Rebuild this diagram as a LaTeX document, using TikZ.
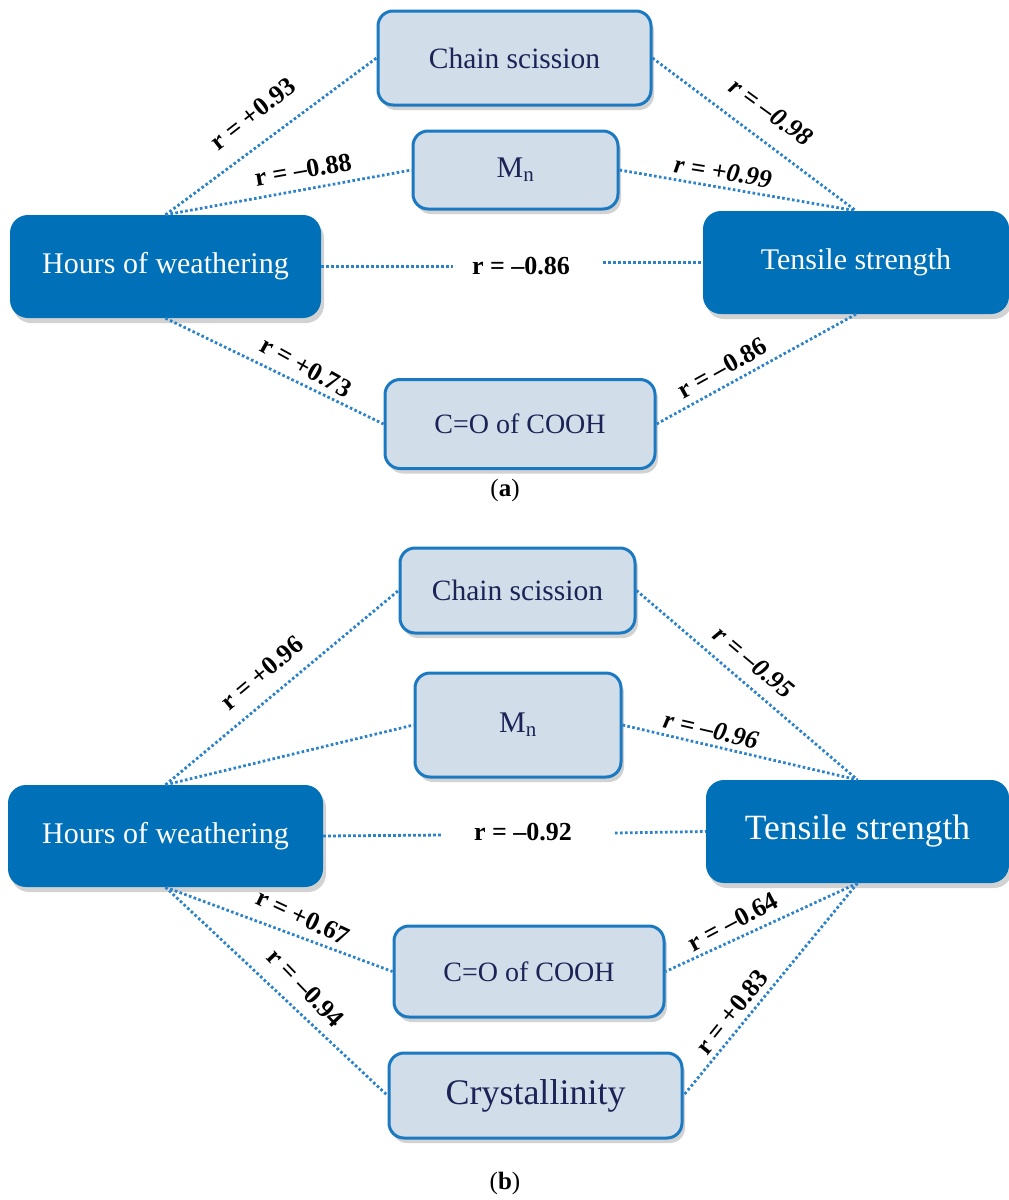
\documentclass[tikz,border=0pt]{standalone}
\usepackage{fontspec}
\setmainfont{Liberation Serif}
\usetikzlibrary{shadows}
\definecolor{darkbox}{HTML}{0071B9}
\definecolor{lightbox}{HTML}{D1DDE8}
\definecolor{boxline}{HTML}{1B79C1}
\definecolor{navy}{HTML}{1C2457}
\definecolor{dotc}{HTML}{2B82C9}
\begin{document}
\begin{tikzpicture}[x=1pt,y=-1pt,
  shad/.style={drop shadow={shadow xshift=3pt, shadow yshift=-5pt, opacity=0.25, fill=black!70}},
  dark/.style={rectangle, rounded corners=18pt, fill=darkbox, text=white, inner sep=0pt, shad,
    font=\fontsize{30}{33}\selectfont},
  light/.style={rectangle, rounded corners=15pt, fill=lightbox, draw=boxline, line width=3pt,
    text=navy, inner sep=0pt, shad, font=\fontsize{29.5}{32}\selectfont},
  link/.style={draw=dotc, line width=2.8pt, dash pattern=on 2.6pt off 2.4pt},
  rlab/.style={font=\fontsize{26}{29}\selectfont\bfseries, inner sep=0pt},
  rlabi/.style={font=\fontsize{26}{29}\selectfont\bfseries\itshape, inner sep=0pt},
  figcap/.style={font=\fontsize{25}{28}\selectfont, inner sep=0pt}]
\useasboundingbox (0,0) rectangle (1009,1200);

% ---------- (a) ----------
\node[light, minimum width=273pt, minimum height=94pt] (cs1) at (514.5,58) {Chain scission};
\node[light, minimum width=205pt, minimum height=78pt, font=\fontsize{30}{33}\selectfont] (mn1) at (515.5,170) {M\textsubscript{n}};
\node[dark, minimum width=311pt, minimum height=103pt] (hw1) at (165.5,266.5) {Hours of weathering};
\node[dark, minimum width=306pt, minimum height=103pt] (ts1) at (856,262.5) {Tensile strength};
\node[light, minimum width=270pt, minimum height=89pt, font=\fontsize{28}{31}\selectfont] (co1) at (520,424) {C=O of COOH};

\coordinate (h1a) at (453,266.5);
\coordinate (h1b) at (603,262.5);
\draw[link] (hw1.north) -- (cs1.west);
\draw[link] (hw1.north) -- (mn1.west);
\draw[link] (cs1.east) -- (ts1.north);
\draw[link] (mn1.east) -- (ts1.north);
\draw[link] (hw1.east) -- (h1a);
\draw[link] (h1b) -- (ts1.west);
\draw[link] (hw1.south) -- (co1.west);
\draw[link] (ts1.south) -- (co1.east);

\node[rlab, rotate=38] (l1) at (253,114) {r = +0.93};
\node[rlab, rotate=10] (l2) at (303,170) {r = –0.88};
\node[rlabi, rotate=-36] (l3) at (771,112) {r = –0.98};
\node[rlabi, rotate=-9] (l4) at (723,172) {r = +0.99};
\node[rlab] (l5) at (521,266) {r = –0.86};
\node[rlab, rotate=-29] (l6) at (306,367) {r = +0.73};
\node[rlab, rotate=29] (l7) at (722,368) {r = –0.86};
\node[figcap] (capa) at (505,490) {(\textbf{a})};

% ---------- (b) ----------
\node[light, minimum width=235pt, minimum height=85pt] (cs2) at (517.5,590.5) {Chain scission};
\node[light, minimum width=206pt, minimum height=104pt, font=\fontsize{30}{33}\selectfont] (mn2) at (518,725) {M\textsubscript{n}};
\node[dark, minimum width=315pt, minimum height=102pt] (hw2) at (165.5,836) {Hours of weathering};
\node[dark, minimum width=303pt, minimum height=103pt, font=\fontsize{35.5}{38}\selectfont] (ts2) at (857.5,831.5) {Tensile strength};
\node[light, minimum width=270pt, minimum height=91pt, font=\fontsize{28}{31}\selectfont] (co2) at (529,971.5) {C=O of COOH};
\node[light, minimum width=293pt, minimum height=85pt, font=\fontsize{36}{39}\selectfont] (cr2) at (535.5,1095.5) {Crystallinity};

\coordinate (h2a) at (443,835);
\coordinate (h2b) at (615,833);
\draw[link] (hw2.north) -- (cs2.west);
\draw[link] (hw2.north) -- (mn2.west);
\draw[link] (cs2.east) -- (ts2.north);
\draw[link] (mn2.east) -- (ts2.north);
\draw[link] (hw2.east) -- (h2a);
\draw[link] (h2b) -- (ts2.west);
\draw[link] (hw2.south) -- (co2.west);
\draw[link] (hw2.south) -- (cr2.west);
\draw[link] (ts2.south) -- (co2.east);
\draw[link] (ts2.south) -- (cr2.east);

\node[rlab, rotate=40] (m1) at (262,673) {r = +0.96};
\node[rlabi, rotate=-40] (m2) at (754,662) {r = –0.95};
\node[rlabi, rotate=-13] (m3) at (711,730) {r = –0.96};
\node[rlab] (m4) at (523,832) {r = –0.92};
\node[rlab, rotate=-25] (m5) at (303,917) {r = +0.67};
\node[rlab, rotate=-46] (m6) at (306,988) {r = –0.94};
\node[rlab, rotate=28] (m7) at (733,922) {r = –0.64};
\node[rlab, rotate=51] (m8) at (732,1012) {r = +0.83};
\node[figcap] (capb) at (505,1183) {(\textbf{b})};
\end{tikzpicture}
\end{document}
